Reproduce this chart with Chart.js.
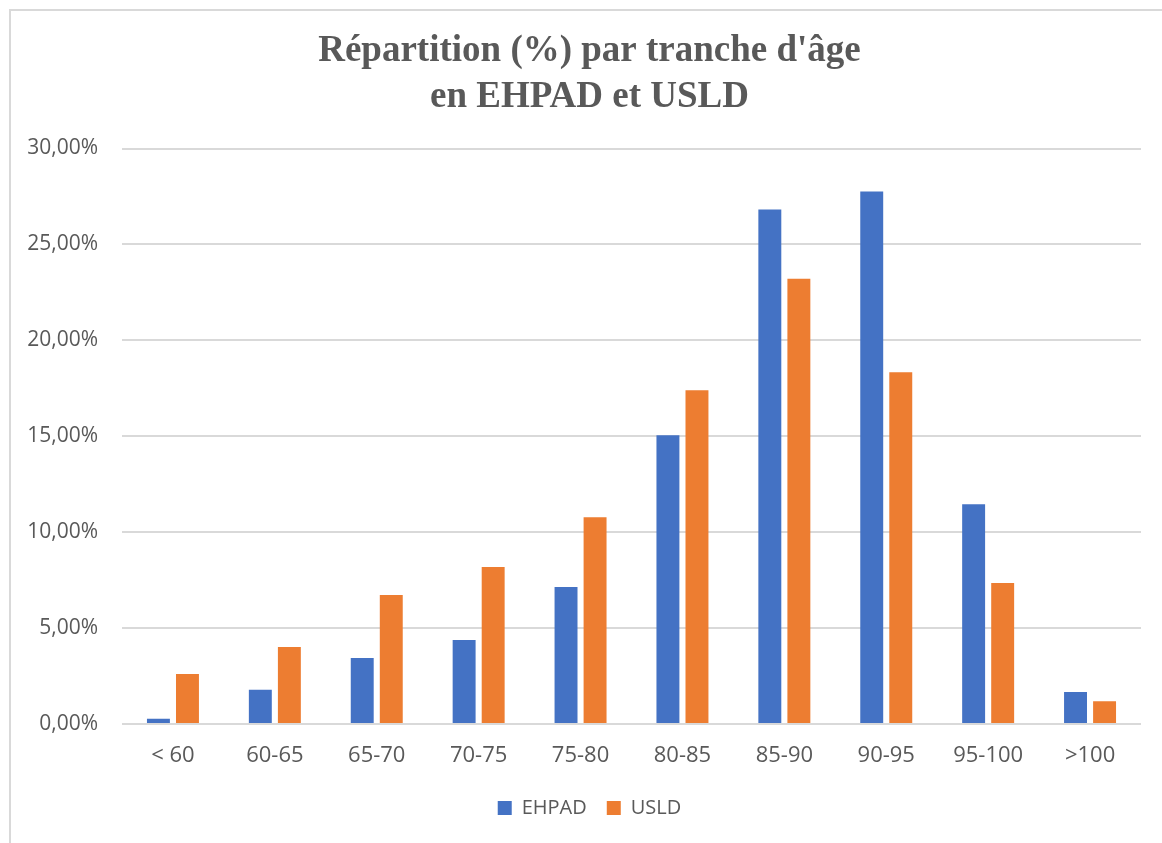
<!DOCTYPE html>
<html lang="fr">
<head>
<meta charset="utf-8">
<script src="https://cdn.jsdelivr.net/npm/chart.js@4/dist/chart.umd.min.js"></script>
<style>
  html, body { margin: 0; padding: 0; background: #fff; }
  #wrap { position: relative; width: 1162px; height: 843px; overflow: hidden; }
  #frame {
    position: absolute; left: 9px; top: 9px; width: 1300px; height: 1000px;
    border-left: 2px solid #d9d9d9; border-top: 2px solid #d9d9d9;
  }
  #chart { position: absolute; left: 0; top: 0; }
</style>
</head>
<body>
<div id="wrap">
  <div id="frame"></div>
  <canvas id="chart" width="1162" height="843"></canvas>
</div>
<script>
// Tranches d'âge
const categories = ['< 60', '60-65', '65-70', '70-75', '75-80', '80-85', '85-90', '90-95', '95-100', '>100'];

// Répartition (%)
const ehpadValues = [0.27, 1.78, 3.44, 4.38, 7.14, 15.05, 26.82, 27.76, 11.46, 1.67];
const usldValues = [2.6, 4.02, 6.72, 8.18, 10.78, 17.4, 23.21, 18.33, 7.35, 1.18];

const titleLines = ["Répartition (%) par tranche d'âge", 'en EHPAD et USLD'];

const textColor = '#595959';
const gridColor = '#d9d9d9';
const sansFont = "'Open Sans', 'Noto Sans', sans-serif";

// y labels are clipped to the scale box, so stretch the box back to the canvas edge
const widenYAxis = {
    id: 'widenYAxis',
    afterLayout(chart) {
        chart.scales.y.left = 0;
    }
};

const ctx = document.getElementById('chart').getContext('2d');

new Chart(ctx, {
    type: 'bar',
    data: {
        labels: categories,
        datasets: [
            {
                label: 'EHPAD',
                data: ehpadValues,
                backgroundColor: '#4472c4',
                categoryPercentage: 0.57,
                barPercentage: 0.79
            },
            {
                label: 'USLD',
                data: usldValues,
                backgroundColor: '#ed7d31',
                categoryPercentage: 0.57,
                barPercentage: 0.79
            }
        ]
    },
    plugins: [widenYAxis],
    options: {
        responsive: false,
        animation: false,
        // left padding is larger so the title and legend sit a bit right of the canvas centre
        layout: { padding: { left: 38, right: 21, top: 0, bottom: 15 } },
        plugins: {
            title: {
                display: true,
                text: titleLines,
                color: textColor,
                font: { family: "'Liberation Serif', 'Times New Roman', serif", size: 37, weight: 'bold', lineHeight: 1.25 },
                padding: { top: 28, bottom: 28 }
            },
            legend: {
                position: 'bottom',
                labels: {
                    color: textColor,
                    font: { family: sansFont, size: 20 },
                    boxWidth: 14,
                    boxHeight: 14,
                    padding: 20
                }
            },
            tooltip: { enabled: false }
        },
        scales: {
            x: {
                grid: { display: false, drawTicks: false },
                border: { display: false },
                ticks: {
                    color: textColor,
                    font: { family: sansFont, size: 22 },
                    padding: 19,
                    maxRotation: 0
                },
                afterFit: scale => { scale.height = 54; }
            },
            y: {
                min: 0,
                max: 30,
                grid: { color: gridColor, lineWidth: 2, drawTicks: false },
                border: { display: false },
                ticks: {
                    stepSize: 5,
                    color: textColor,
                    font: { family: sansFont, size: 21 },
                    padding: 24,
                    callback: v => v.toFixed(2).replace('.', ',') + '%'
                },
                afterFit: scale => { scale.width = 84; }
            }
        }
    }
});
</script>
</body>
</html>
